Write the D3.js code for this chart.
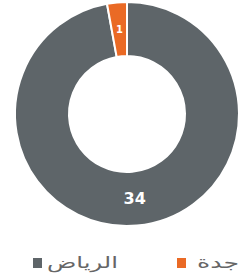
<!DOCTYPE html>
<html>
<head>
<meta charset="utf-8">
<script src="https://cdn.jsdelivr.net/npm/d3@7"></script>
<style>
  body { margin: 0; background: #fff; }
  svg { display: block; }
</style>
</head>
<body>
<div id="chart-container"></div>
<script>
const cities = ["الرياض", "جدة"];
const counts = [34, 1];
const colors = ["#5e6569", "#ea6a25"];

function drawChart() {
  const width = 241;
  const height = 280;
  const cx = 127;
  const cy = 114;
  const outerR = 112;
  const innerR = 58;

  const svg = d3
    .select("#chart-container")
    .append("svg")
    .attr("width", width)
    .attr("height", height);

  const data = cities.map((c, i) => ({ city: c, value: counts[i], color: colors[i] }));

  const pie = d3.pie().sort(null).value((d) => d.value);
  const arc = d3.arc().innerRadius(innerR).outerRadius(outerR);

  const g = svg.append("g").attr("transform", `translate(${cx}, ${cy})`);

  //Slices
  g.selectAll("path")
    .data(pie(data))
    .join("path")
    .attr("d", arc)
    .attr("fill", (d) => d.data.color)
    .attr("stroke", "#fff")
    .attr("stroke-width", 2);

  //Value labels
  g.selectAll("text")
    .data(pie(data))
    .join("text")
    .attr("transform", (d) => {
      const [x, y] = arc.centroid(d);
      return `translate(${x}, ${y})`;
    })
    .attr("text-anchor", "middle")
    .attr("dy", "0.35em")
    .style("font-family", "'DejaVu Sans', sans-serif")
    .style("font-weight", "bold")
    .style("font-size", (d) => (d.data.value > 5 ? "16px" : "10px"))
    .style("fill", "#fff")
    .text((d) => d.data.value);

  //Legend
  const legend = svg.append("g").attr("transform", "translate(0, 263)");
  const itemX = [33, 177];
  const textW = [71, 42];
  const items = legend
    .selectAll("g")
    .data(data)
    .join("g")
    .attr("transform", (d, i) => `translate(${itemX[i]}, 0)`);

  items
    .append("rect")
    .attr("x", 0)
    .attr("y", -5)
    .attr("width", 9)
    .attr("height", 10)
    .attr("fill", (d) => d.color);

  items
    .append("text")
    .attr("x", (d, i) => (i === 0 ? 14 : 20))
    .attr("dy", "0.3em")
    .attr("textLength", (d, i) => textW[i])
    .attr("lengthAdjust", "spacingAndGlyphs")
    .style("font-family", "'DejaVu Sans', sans-serif")
    .style("font-size", "16px")
    .style("fill", "#666")
    .text((d) => d.city);
}

drawChart();
</script>
</body>
</html>
